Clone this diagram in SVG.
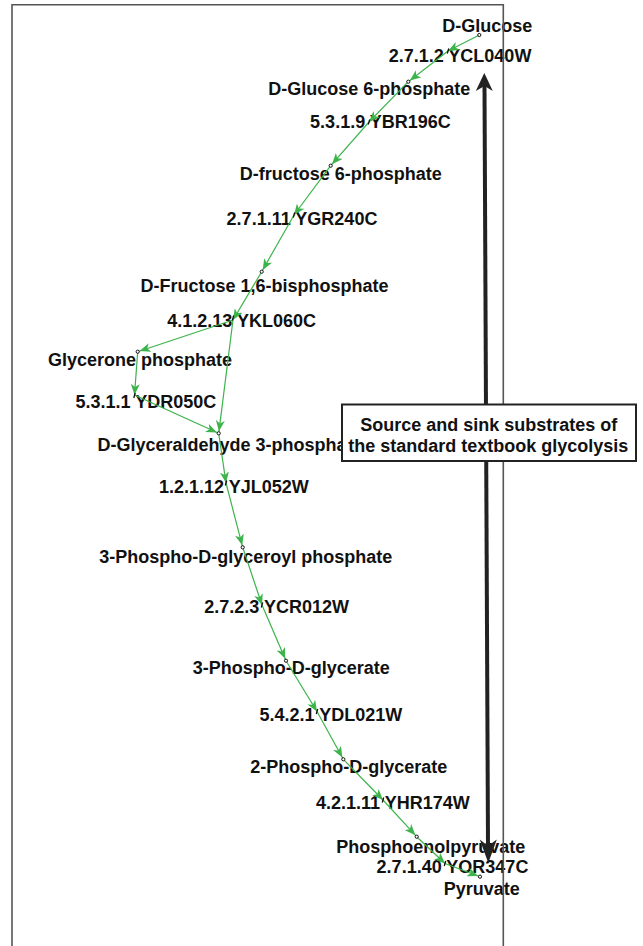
<svg xmlns="http://www.w3.org/2000/svg" width="643" height="946" viewBox="0 0 643 946">
<defs>
<marker id="ah" markerUnits="userSpaceOnUse" markerWidth="12" markerHeight="9" viewBox="0 0 12 9" refX="11" refY="4.5" orient="auto">
<path d="M0,0 L11,4.5 L0,9 L3,4.5 z" fill="#3cb44b"/>
</marker>
<marker id="ahp" markerUnits="userSpaceOnUse" markerWidth="14" markerHeight="9" viewBox="0 0 14 9" refX="13" refY="4.5" orient="auto">
<path d="M0,0 L11,4.5 L0,9 L3,4.5 z" fill="#3cb44b"/>
</marker>
</defs>
<style>
.t{font-family:"Liberation Sans",Arial,sans-serif;font-weight:bold;font-size:18px;fill:#111;text-anchor:middle}
.e{fill:none;stroke:#3cb44b;stroke-width:1.2}
.m{marker-end:url(#ah)}
.p{marker-end:url(#ahp)}
.n{fill:#fff;stroke:#111;stroke-width:1}
.k{stroke:#111;stroke-width:1.3}
</style>
<rect width="643" height="946" fill="#fff"/>

<g id="labels">
<g id="n-glucose"><text class="t" x="487.3" y="32">D-Glucose</text></g>
<g id="n-g6p"><text class="t" x="369.2" y="95">D-Glucose 6-phosphate</text></g>
<g id="n-f6p"><text class="t" x="340.7" y="180">D-fructose 6-phosphate</text></g>
<g id="n-f16bp"><text class="t" x="264.5" y="292">D-Fructose 1,6-bisphosphate</text></g>
<g id="n-dhap"><text class="t" x="140" y="366">Glycerone phosphate</text></g>
<g id="n-gap"><text class="t" x="230" y="450.5">D-Glyceraldehyde 3-phosphate</text></g>
<g id="n-13bpg"><text class="t" x="245.7" y="563">3-Phospho-D-glyceroyl phosphate</text></g>
<g id="n-3pg"><text class="t" x="291.3" y="674">3-Phospho-D-glycerate</text></g>
<g id="n-2pg"><text class="t" x="348.7" y="773">2-Phospho-D-glycerate</text></g>
<g id="n-pep"><text class="t" x="430.8" y="852.5">Phosphoenolpyruvate</text></g>
<g id="n-pyr"><text class="t" x="481.7" y="895">Pyruvate</text></g>
<g id="r1"><text class="t" x="460" y="62">2.7.1.2 YCL040W</text></g>
<g id="r2"><text class="t" x="380.5" y="128">5.3.1.9 YBR196C</text></g>
<g id="r3"><text class="t" x="302" y="225">2.7.1.11 YGR240C</text></g>
<g id="r4"><text class="t" x="241.7" y="327">4.1.2.13 YKL060C</text></g>
<g id="r5"><text class="t" x="145.8" y="408">5.3.1.1 YDR050C</text></g>
<g id="r6"><text class="t" x="233.8" y="493">1.2.1.12 YJL052W</text></g>
<g id="r7"><text class="t" x="276.7" y="613">2.7.2.3 YCR012W</text></g>
<g id="r8"><text class="t" x="330.8" y="720.5">5.4.2.1 YDL021W</text></g>
<g id="r9"><text class="t" x="392.8" y="809">4.2.1.11 YHR174W</text></g>
<g id="r10"><text class="t" x="452.5" y="872.5">2.7.1.40 YOR347C</text></g>
</g>

<g id="connectors">
<path class="e m" d="M479.3,35 L448,51"/>
<path class="e p" d="M448,51 L408.3,81.7"/>
<path class="e m" d="M408.3,81.7 L369,122"/>
<path class="e p" d="M369,122 L330.7,165.7"/>
<path class="e m" d="M330.7,165.7 L294,215"/>
<path class="e p" d="M294,215 L261.7,271.7"/>
<path class="e m" d="M261.7,271.7 L233,320"/>
<path class="e p" d="M233,320 L137.7,351.7"/>
<path class="e p" d="M233,320 L218.7,433.3"/>
<path class="e m" d="M137.7,351.7 L134.5,395"/>
<path class="e p" d="M134.5,395 L218.7,433.3"/>
<path class="e m" d="M218.7,433.3 L226,483"/>
<path class="e p" d="M226,483 L242.7,547.3"/>
<path class="e m" d="M242.7,547.3 L262,605"/>
<path class="e p" d="M262,605 L286,660.7"/>
<path class="e m" d="M286,660.7 L317,711.5"/>
<path class="e p" d="M317,711.5 L343.3,759.3"/>
<path class="e m" d="M343.3,759.3 L383,800"/>
<path class="e p" d="M383,800 L416.7,836.7"/>
<path class="e m" d="M416.7,836.7 L445,863.5"/>
<path class="e p" d="M445,863.5 L480,876.7"/>
</g>

<g id="points">
<circle class="n" cx="479.3" cy="35" r="1.6"/>
<circle class="n" cx="408.3" cy="81.7" r="1.6"/>
<circle class="n" cx="330.7" cy="165.7" r="1.6"/>
<circle class="n" cx="261.7" cy="271.7" r="1.6"/>
<circle class="n" cx="137.7" cy="351.7" r="1.6"/>
<circle class="n" cx="218.7" cy="433.3" r="1.6"/>
<circle class="n" cx="242.7" cy="547.3" r="1.6"/>
<circle class="n" cx="286" cy="660.7" r="1.6"/>
<circle class="n" cx="343.3" cy="759.3" r="1.6"/>
<circle class="n" cx="416.7" cy="836.7" r="1.6"/>
<circle class="n" cx="480" cy="876.7" r="1.6"/>
<path class="k" d="M448.7,48.5 L447.3,53.5 M369.7,119.5 L368.3,124.5 M294.7,212.5 L293.3,217.5 M233.7,315.5 L232.3,320.5 M135.2,393 L133.8,398 M226.7,480.5 L225.3,485.5 M262.7,602.5 L261.3,607.5 M317.7,709 L316.3,714 M383.7,797.5 L382.3,802.5 M445.7,861 L444.3,866"/>
</g>

<g id="frame">
<path d="M12,946 V4.7 H503.3 V946" fill="none" stroke="#555" stroke-width="1.6"/>
</g>

<g id="big-arrow">
<path d="M484.5,86 L488,846" stroke="#222" stroke-width="4" fill="none"/>
<path d="M484.3,73 L492.8,91 L484.5,86 L475.8,91 z" fill="#222"/>
<path d="M488.3,863 L479.8,839.5 L488,846 L496.8,839.5 z" fill="#222"/>
</g>

<g id="note">
<rect x="342" y="404.5" width="294" height="56.5" fill="#fff" stroke="#222" stroke-width="2"/>
<text class="t" x="488.8" y="431">Source and sink substrates of</text>
<text class="t" x="488.2" y="452">the standard textbook glycolysis</text>
</g>
</svg>
